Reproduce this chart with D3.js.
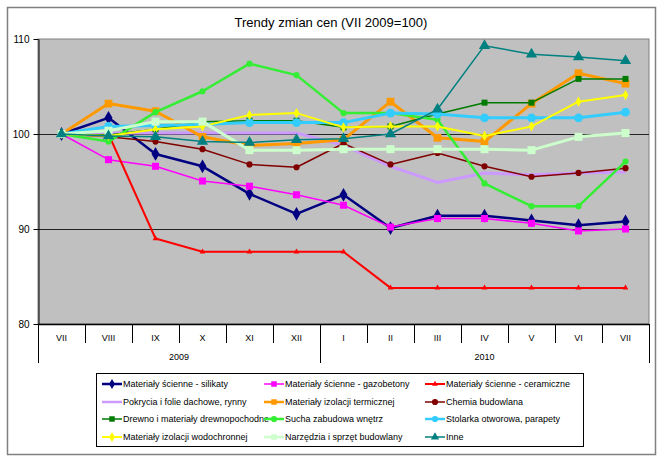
<!DOCTYPE html>
<html><head><meta charset="utf-8">
<script src="https://cdn.jsdelivr.net/npm/d3@7"></script>
<style>body{margin:0;background:#fff}svg{display:block;font-family:Arial,"Liberation Sans",sans-serif}</style>
</head><body><svg id="c" width="664" height="462"></svg>
<script>
const categories = ["VII","VIII","IX","X","XI","XII","I","II","III","IV","V","VI","VII"];
const years = ["2009","2010"];
const yearSpans = [6,7];
const yTicks = [80,90,100,110];
const seriesNames = [
  "Materiały ścienne - silikaty","Materiały ścienne - gazobetony","Materiały ścienne - ceramiczne",
  "Pokrycia i folie dachowe, rynny","Materiały izolacji termicznej","Chemia budowlana",
  "Drewno i materiały drewnopochodne","Sucha zabudowa wnętrz","Stolarka otworowa, parapety",
  "Materiały izolacji wodochronnej","Narzędzia i sprzęt budowlany","Inne"];
const silikaty      = [100,101.7,97.9,96.6,93.7,91.6,93.6,90.1,91.4,91.4,90.9,90.4,90.8];
const gazobetony    = [100,97.3,96.6,95.05,94.5,93.6,92.5,90.2,91.1,91.1,90.6,89.8,90.0];
const ceramiczne    = [100,100,89.0,87.6,87.6,87.6,87.6,83.8,83.8,83.8,83.8,83.8,83.8];
const pokrycia      = [100,100.1,100.1,100.1,100.1,100.1,98.8,96.6,94.9,95.9,95.7,95.9,96.0];
const izolTermiczne = [100,103.2,102.4,99.7,98.8,99.0,99.4,103.4,99.6,99.2,103.2,106.4,105.3];
const chemia        = [100,99.7,99.2,98.4,96.8,96.5,99.0,96.8,98.0,96.6,95.5,95.9,96.4];
const drewno        = [100,99.9,100.5,101.3,101.4,101.4,100.7,100.8,102.1,103.3,103.3,105.8,105.8];
const sucha         = [100,99.2,102.3,104.5,107.4,106.2,102.2,102.2,101.5,94.8,92.4,92.4,97.1];
const stolarka      = [100,100.8,100.9,101.0,101.2,101.2,101.2,102.2,102.1,101.7,101.7,101.7,102.3];
const wodochronne   = [100,99.8,100.5,100.8,102.0,102.2,100.7,100.8,100.8,99.8,100.8,103.4,104.1];
const narzedzia     = [100,100.35,101.3,101.3,98.3,98.3,98.4,98.4,98.4,98.4,98.3,99.7,100.1];
const inne          = [100,99.8,99.7,99.2,99.1,99.4,99.5,100.0,102.6,109.3,108.4,108.1,107.7];
const seriesValues = [silikaty,gazobetony,ceramiczne,pokrycia,izolTermiczne,chemia,drewno,sucha,stolarka,wodochronne,narzedzia,inne];
const seriesColors = ["#000080","#FF00FF","#FF0000","#CC99FF","#FF9900","#800000","#007A00","#33EE33","#33CCFF","#FFFF00","#CCFFCC","#008080"];
const seriesWidths = [2.5,1.5,2,3,3,1.5,1.5,2.5,3,2,3,1.5];
const seriesMarkers = ["diamond","square","triangle","none","square","circle","square","circle","circle","diamond","square","triangle"];
const markerSizes = [55,50,14,0,60,30,36,30,60,30,64,55];

const svg = d3.select("#c");
const L=38, R=649, T=39, B=324;

// outer border
svg.append("rect").attr("x",7.5).attr("y",7.5).attr("width",648).attr("height",447)
  .attr("fill","#fff").attr("stroke","#808080").attr("stroke-width",1.5);

svg.append("text").attr("x",331).attr("y",27).attr("text-anchor","middle")
  .attr("font-size",13).attr("fill","#000").text("Trendy zmian cen (VII 2009=100)");

const x = d3.scaleBand().domain(d3.range(categories.length)).range([L,R]);
const y = d3.scaleLinear().domain([80,110]).range([B,T]);

svg.append("rect").attr("x",L).attr("y",T).attr("width",R-L).attr("height",B-T)
  .attr("fill","#C0C0C0").attr("stroke","#808080").attr("stroke-width",1);

// gridlines
svg.append("g").selectAll("line").data(yTicks.filter(v=>v>80 && v<110)).join("line")
  .attr("x1",L).attr("x2",R).attr("y1",d=>Math.round(y(d))+0.5).attr("y2",d=>Math.round(y(d))+0.5)
  .attr("stroke","#222").attr("stroke-width",1);

// y axis
const ya = svg.append("g").attr("transform",`translate(${L+0.5},0)`)
  .call(d3.axisLeft(y).tickValues(yTicks).tickSize(5).tickPadding(4).tickSizeOuter(0));
ya.selectAll("text").attr("font-size",10).attr("font-family","Arial, 'Liberation Sans', sans-serif").attr("fill","#000");
ya.selectAll("line,path").attr("stroke","#000");

// x axis (multi-level)
const xg = svg.append("g");
xg.append("line").attr("x1",L).attr("x2",R).attr("y1",B+0.5).attr("y2",B+0.5).attr("stroke","#000").attr("stroke-width",1.5);
const bounds = d3.range(categories.length+1).map(i => i<categories.length ? x(i) : x(i-1)+x.bandwidth());
xg.selectAll("line.t").data(bounds).join("line").attr("class","t")
  .attr("x1",d=>Math.round(d)+0.5).attr("x2",d=>Math.round(d)+0.5).attr("y1",B).attr("y2",B+19)
  .attr("stroke","#000");
xg.selectAll("text.c").data(categories).join("text").attr("class","c")
  .attr("x",(d,i)=>x(i)+x.bandwidth()/2).attr("y",B+17).attr("text-anchor","middle")
  .attr("font-size",9).attr("fill","#000").text(d=>d);
let acc=0;
const yearBounds=[0];
yearSpans.forEach(s=>{acc+=s;yearBounds.push(acc);});
xg.selectAll("line.y").data(yearBounds).join("line").attr("class","y")
  .attr("x1",d=>Math.round(bounds[d])+0.5).attr("x2",d=>Math.round(bounds[d])+0.5).attr("y1",B).attr("y2",B+39)
  .attr("stroke","#000");
xg.selectAll("text.yr").data(years).join("text").attr("class","yr")
  .attr("x",(d,i)=>(bounds[yearBounds[i]]+bounds[yearBounds[i+1]])/2).attr("y",B+36).attr("text-anchor","middle")
  .attr("font-size",9).attr("fill","#000").text(d=>d);

const symType = {diamond:d3.symbolDiamond, square:d3.symbolSquare, triangle:d3.symbolTriangle, circle:d3.symbolCircle};
const line = d3.line().x((d,i)=>x(i)+x.bandwidth()/2).y(d=>y(d));
const plot = svg.append("g");
seriesValues.forEach((vals,k)=>{
  const g = plot.append("g");
  g.append("path").datum(vals).attr("d",line).attr("fill","none")
    .attr("stroke",seriesColors[k]).attr("stroke-width",seriesWidths[k]).attr("stroke-linejoin","round");
  if(seriesMarkers[k]!=="none"){
    g.selectAll("path.m").data(vals).join("path").attr("class","m")
      .attr("transform",(d,i)=>`translate(${x(i)+x.bandwidth()/2},${y(d)})`)
      .attr("d",d3.symbol(symType[seriesMarkers[k]],markerSizes[k])).attr("fill",seriesColors[k]);
  }
});

// legend
const lg = svg.append("g");
lg.append("rect").attr("x",96.5).attr("y",373.5).attr("width",487).attr("height",73)
  .attr("fill","#fff").attr("stroke","#000");
const colX=[102,264,425], rowY=[384,402,419,437];
seriesNames.forEach((n,k)=>{
  const cx=colX[k%3], cy=rowY[Math.floor(k/3)];
  const it = lg.append("g");
  it.append("line").attr("x1",cx).attr("x2",cx+20).attr("y1",cy).attr("y2",cy)
    .attr("stroke",seriesColors[k]).attr("stroke-width",Math.min(seriesWidths[k],2.5));
  if(seriesMarkers[k]!=="none"){
    it.append("path").attr("transform",`translate(${cx+10},${cy})`)
      .attr("d",d3.symbol(symType[seriesMarkers[k]],Math.min(markerSizes[k],30))).attr("fill",seriesColors[k]);
  }
  it.append("text").attr("x",cx+21).attr("y",cy+3).attr("font-size",9).attr("fill","#000").text(n);
});
</script></body></html>
